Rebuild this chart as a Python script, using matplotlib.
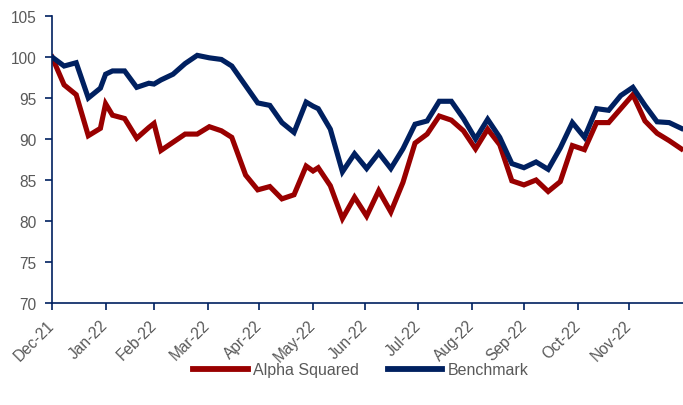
import matplotlib
matplotlib.use("Agg")
import matplotlib.pyplot as plt
import matplotlib.dates as mdates
import pandas as pd

dates = ["2021-12-31", "2022-01-07", "2022-01-14", "2022-01-21", "2022-01-28",
         "2022-01-31", "2022-02-04", "2022-02-11", "2022-02-18", "2022-02-25",
         "2022-02-28", "2022-03-04", "2022-03-11", "2022-03-18", "2022-03-25",
         "2022-04-01", "2022-04-08", "2022-04-14", "2022-04-22", "2022-04-29",
         "2022-05-06", "2022-05-13", "2022-05-20", "2022-05-27", "2022-05-31",
         "2022-06-03", "2022-06-10", "2022-06-17", "2022-06-24", "2022-07-01",
         "2022-07-08", "2022-07-15", "2022-07-22", "2022-07-29", "2022-08-05",
         "2022-08-12", "2022-08-19", "2022-08-26", "2022-09-02", "2022-09-09",
         "2022-09-16", "2022-09-23", "2022-09-30", "2022-10-07", "2022-10-14",
         "2022-10-21", "2022-10-28", "2022-11-04", "2022-11-11", "2022-11-18",
         "2022-11-25", "2022-12-02", "2022-12-09", "2022-12-16", "2022-12-23",
         "2022-12-30"]

alpha_squared = [100.0, 96.6, 95.4, 90.4, 91.3,
                 94.3, 92.9, 92.5, 90.1, 91.4,
                 91.9, 88.6, 89.6, 90.6, 90.6,
                 91.5, 91.0, 90.2, 85.6, 83.8,
                 84.2, 82.7, 83.2, 86.7, 86.1,
                 86.5, 84.3, 80.3, 82.9, 80.6,
                 83.7, 81.1, 84.7, 89.5, 90.6,
                 92.8, 92.3, 91.0, 88.8, 91.2,
                 89.3, 84.9, 84.4, 85.0, 83.6,
                 84.8, 89.2, 88.7, 92.0, 92.0,
                 93.7, 95.4, 92.2, 90.7, 89.8,
                 88.8]

benchmark = [100.0, 98.9, 99.3, 95.0, 96.2,
             97.9, 98.3, 98.3, 96.3, 96.8,
             96.7, 97.2, 97.9, 99.2, 100.2,
             99.9, 99.7, 98.9, 96.5, 94.4,
             94.1, 92.0, 90.8, 94.5, 94.0,
             93.7, 91.2, 86.0, 88.2, 86.4,
             88.3, 86.4, 88.8, 91.8, 92.2,
             94.6, 94.6, 92.5, 90.0, 92.4,
             90.2, 87.0, 86.5, 87.2, 86.3,
             88.9, 92.0, 90.2, 93.7, 93.5,
             95.3, 96.3, 94.1, 92.1, 92.0,
             91.3]

month_ends = ["2021-12-31", "2022-01-31", "2022-02-28", "2022-03-31", "2022-04-30",
              "2022-05-31", "2022-06-30", "2022-07-31", "2022-08-31", "2022-09-30",
              "2022-10-31", "2022-11-30"]

x = pd.to_datetime(dates)
ticks = pd.to_datetime(month_ends)

red = "#990000"
navy = "#002060"
grey = "#595959"

plt.rcParams["font.family"] = ["Liberation Sans", "DejaVu Sans"]

fig = plt.figure(figsize=(6.83, 4.06), dpi=100)
ax = fig.add_axes([52 / 683, (406 - 304) / 406, 631 / 683, 287 / 406])

ax.plot(x, alpha_squared, color=red, lw=3.7, label="Alpha Squared",
        solid_joinstyle="miter")
ax.plot(x, benchmark, color=navy, lw=3.7, label="Benchmark",
        solid_joinstyle="miter")

ax.set_xlim(pd.Timestamp("2021-12-31"), pd.Timestamp("2022-12-31"))
ax.set_ylim(70, 105)
ax.set_yticks(range(70, 106, 5))
ax.set_xticks(ticks)
ax.xaxis.set_major_formatter(mdates.DateFormatter("%b-%y"))

for s in ["top", "right"]:
    ax.spines[s].set_visible(False)
for s in ["left", "bottom"]:
    ax.spines[s].set_color(navy)
    ax.spines[s].set_linewidth(1.2)

ax.tick_params(axis="both", direction="out", length=5, width=1.2, color=navy,
               labelcolor=grey, labelsize=11.2)
ax.tick_params(axis="y", pad=6)
ax.tick_params(axis="x", pad=9)
for lab in ax.get_xticklabels():
    lab.set_rotation(45)
    lab.set_ha("right")
    lab.set_va("center")
    lab.set_rotation_mode("anchor")

fig.legend(loc="center", bbox_to_anchor=(361 / 683, 1 - 371 / 406), ncol=2,
           frameon=False, fontsize=11.5, handlelength=3.4, columnspacing=1.8,
           handletextpad=0.35, labelcolor=grey)
for line in fig.legends[0].get_lines():
    line.set_linewidth(4.2)

fig.savefig("out.png", dpi=100)
